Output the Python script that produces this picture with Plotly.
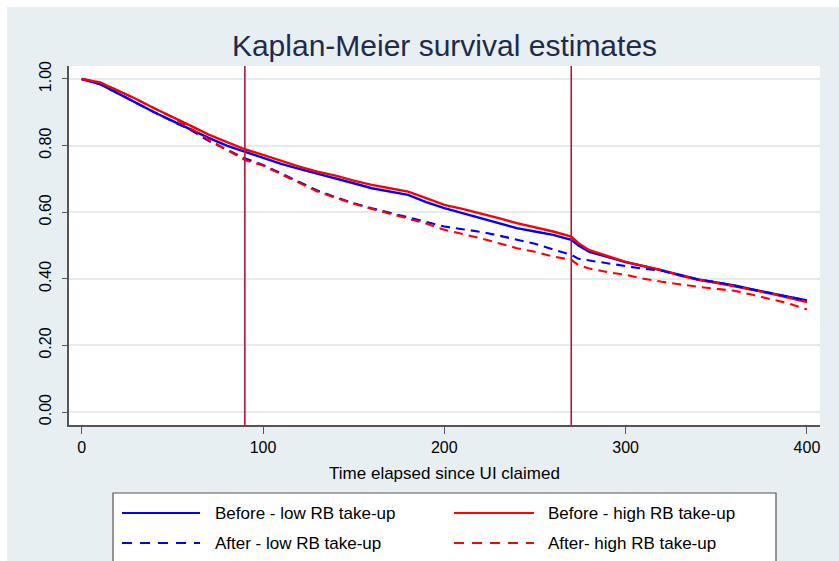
import plotly.graph_objects as go

# ---------------- data ----------------
days = [0, 10, 20, 30, 40, 50, 60, 70, 80, 90, 100, 110, 120, 130, 140, 150, 160, 170,
        180, 190, 200, 210, 220, 230, 240, 250, 260, 270, 274, 280, 290, 300, 310, 320,
        330, 340, 350, 360, 370, 380, 390, 400]

before_low = [1.000, 0.985, 0.957, 0.928, 0.900, 0.874, 0.848, 0.823, 0.800, 0.782,
              0.762, 0.745, 0.730, 0.716, 0.703, 0.687, 0.672, 0.662, 0.652, 0.630,
              0.612, 0.597, 0.582, 0.567, 0.552, 0.542, 0.532, 0.517, 0.500, 0.481,
              0.466, 0.450, 0.438, 0.426, 0.412, 0.398, 0.390, 0.380, 0.368, 0.357,
              0.345, 0.335]
before_high = [1.000, 0.990, 0.965, 0.940, 0.912, 0.887, 0.860, 0.833, 0.810, 0.789,
               0.772, 0.754, 0.737, 0.722, 0.710, 0.695, 0.682, 0.672, 0.662, 0.642,
               0.622, 0.610, 0.597, 0.582, 0.567, 0.555, 0.542, 0.527, 0.507, 0.486,
               0.468, 0.451, 0.438, 0.426, 0.410, 0.397, 0.388, 0.378, 0.367, 0.356,
               0.343, 0.330]
after_low = [1.000, 0.985, 0.957, 0.928, 0.900, 0.873, 0.847, 0.814, 0.787, 0.762,
             0.742, 0.717, 0.690, 0.665, 0.645, 0.627, 0.612, 0.598, 0.585, 0.570,
             0.557, 0.549, 0.541, 0.530, 0.517, 0.505, 0.488, 0.472, 0.460, 0.455,
             0.445, 0.438, 0.430, 0.424, 0.410, 0.398, 0.390, 0.380, 0.368, 0.357,
             0.345, 0.335]
after_high = [1.000, 0.990, 0.965, 0.940, 0.912, 0.885, 0.852, 0.818, 0.787, 0.757,
              0.740, 0.715, 0.688, 0.662, 0.643, 0.625, 0.610, 0.596, 0.582, 0.566,
              0.547, 0.535, 0.522, 0.507, 0.492, 0.481, 0.467, 0.457, 0.441, 0.431,
              0.420, 0.412, 0.400, 0.391, 0.383, 0.376, 0.370, 0.364, 0.352, 0.338,
              0.326, 0.308]

series_names = ["Before - low RB take-up", "Before - high RB take-up",
                "After - low RB take-up", "After- high RB take-up"]
ref_lines = [90, 270]
x_ticks = [0, 100, 200, 300, 400]
y_ticks = [0.0, 0.2, 0.4, 0.6, 0.8, 1.0]

title_text = "Kaplan-Meier survival estimates"
x_title = "Time elapsed since UI claimed"

# ---------------- styling ----------------
W, H = 839, 561
ML, MR, MT, MB = 69, 19, 66, 136
PW, PH = W - ML - MR, H - MT - MB
BG = "#e8eff2"
GRID = "#e4ebee"
FONT = "Liberation Sans, Arial, Helvetica, sans-serif"
BLUE = "#0000ff"
RED = "#ff0000"
VLINE = "#c0103a"
DASH = "9px,6px"


def px2x(px):
    return (px - ML) / PW


def py2y(py):
    return (H - MB - py) / PH


styles = [
    dict(color=BLUE, width=2.4, dash="solid"),
    dict(color=RED, width=2.4, dash="solid"),
    dict(color=BLUE, width=2.1, dash=DASH),
    dict(color=RED, width=2.1, dash=DASH),
]
values = [before_low, before_high, after_low, after_high]

fig = go.Figure()
for name, vals, st in zip(series_names, values, styles):
    fig.add_trace(go.Scatter(x=days, y=vals, mode="lines", name=name,
                             line=st, showlegend=False))

for xv in ref_lines:
    fig.add_vline(x=xv, line=dict(color=VLINE, width=1.6), layer="above")

shapes = []
# white strips at top and left of the image
shapes.append(dict(type="rect", xref="paper", yref="paper",
                   x0=px2x(-5), x1=px2x(W + 5), y0=py2y(7), y1=py2y(-5),
                   fillcolor="white", line=dict(width=0), layer="above"))
shapes.append(dict(type="rect", xref="paper", yref="paper",
                   x0=px2x(-5), x1=px2x(7), y0=py2y(H + 5), y1=py2y(-5),
                   fillcolor="white", line=dict(width=0), layer="above"))

# legend box (extends past bottom edge as in the reference)
LB_L, LB_R, LB_T, LB_B = 113, 776, 493, 600
shapes.append(dict(type="rect", xref="paper", yref="paper",
                   x0=px2x(LB_L), x1=px2x(LB_R), y0=py2y(LB_B), y1=py2y(LB_T),
                   fillcolor="white", line=dict(color="#555555", width=1.2),
                   layer="above"))

rows = [513, 543]
cols = [(122, 200, 213), (454, 534, 546)]
legend_pos = [(0, 0), (0, 1), (1, 0), (1, 1)]  # (row, col) for each series
annotations = []
for name, st, (r, c) in zip(series_names, styles, legend_pos):
    x0, x1, xt = cols[c]
    yy = py2y(rows[r])
    shapes.append(dict(type="line", xref="paper", yref="paper",
                       x0=px2x(x0), x1=px2x(x1), y0=yy, y1=yy,
                       line=dict(color=st["color"], width=2.0,
                                 dash=("solid" if st["dash"] == "solid" else "10px,8px")),
                       layer="above"))
    annotations.append(dict(text=name, xref="paper", yref="paper",
                            x=px2x(xt), y=yy, xanchor="left", yanchor="middle",
                            showarrow=False,
                            font=dict(family=FONT, size=17, color="black")))

fig.update_layout(
    width=W, height=H,
    margin=dict(l=ML, r=MR, t=MT, b=MB, pad=0),
    paper_bgcolor=BG, plot_bgcolor="white",
    showlegend=False,
    title=dict(text=title_text, x=0.5, xref="paper", xanchor="center",
               y=1 - 45 / H, yref="container", yanchor="middle",
               font=dict(family=FONT, size=30, color="#1e2b4d")),
    shapes=fig.layout.shapes + tuple(shapes),
    annotations=annotations,
    xaxis=dict(range=[-7.0, 407.2], tickvals=x_ticks, ticktext=[str(t) for t in x_ticks],
               showgrid=False, zeroline=False, showline=True, linecolor="#555555",
               linewidth=1.5, ticks="outside", ticklen=7, tickcolor="#555555",
               tickwidth=1.2, tickfont=dict(family=FONT, size=16, color="black"),
               title=dict(text=x_title, standoff=12,
                          font=dict(family=FONT, size=17, color="black"))),
    yaxis=dict(range=[-0.039, 1.039], tickvals=y_ticks, tickformat=".2f",
               showgrid=True, gridcolor=GRID, gridwidth=1.5, zeroline=False,
               showline=True, linecolor="#555555", linewidth=1.5,
               ticks="outside", ticklen=5, tickcolor="#555555", tickwidth=1.2,
               tickangle=-90, ticklabelstandoff=5,
               tickfont=dict(family=FONT, size=16, color="black")),
)

fig.write_html("out.html")
